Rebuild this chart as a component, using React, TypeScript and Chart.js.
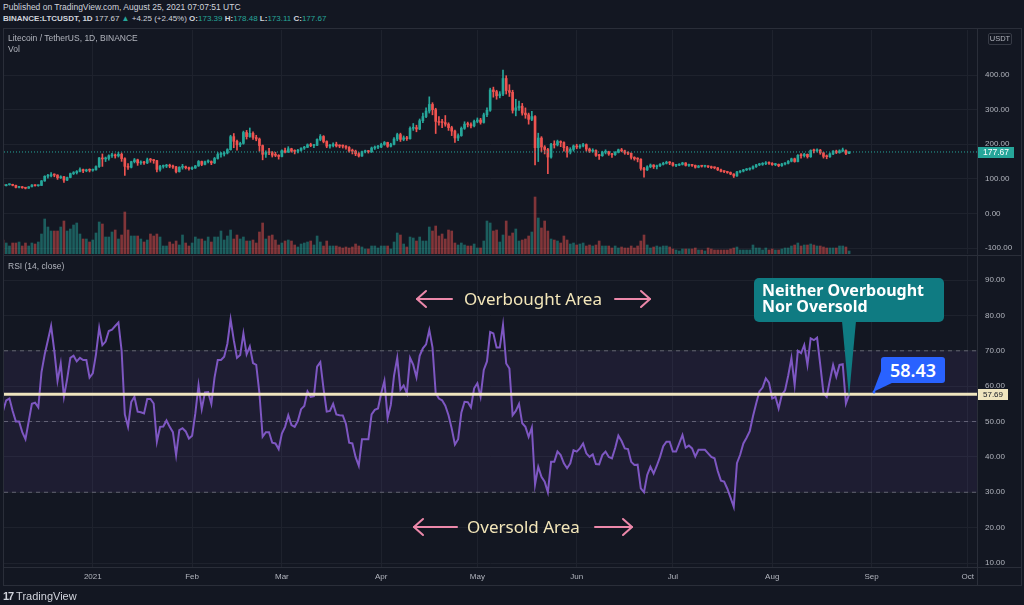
import React, { useEffect, useRef } from "react";
import { Chart, registerables } from "chart.js";

Chart.register(...registerables);

// ---------- data (Dec 4, 2020 = day 0 … Aug 25, 2021 = day 264) ----------
const FIRST_OPEN = 84.0;

const closes = [
  80.2, 83.1, 84.0, 81.3, 75.5, 77.2, 74.4, 73.0, 77.1, 82.2,
  80.3, 81.0, 94.2, 107.5, 108.8, 112.3, 111.0, 103.1, 106.2, 96.5,
  104.1, 115.2, 117.9, 121.3, 127.0, 123.2, 125.3, 124.8, 126.2, 135.5,
  160.4, 157.6, 158.9, 166.7, 167.6, 166.4, 170.9, 158.5, 136.1, 133.5,
  149.6, 155.0, 146.1, 146.7, 146.2, 155.3, 154.4, 152.7, 127.4, 136.0,
  136.9, 139.3, 136.8, 134.5, 121.0, 133.6, 134.6, 132.3, 129.5, 131.5,
  137.4, 150.2, 141.8, 149.6, 150.1, 146.2, 158.9, 170.5, 171.8, 175.0,
  184.3, 222.0, 208.6, 198.2, 202.5, 234.0, 222.1, 231.5, 219.6, 215.0,
  196.2, 171.0, 176.3, 175.8, 168.4, 168.0, 164.8, 181.8, 177.5, 187.0,
  180.2, 179.4, 182.8, 188.9, 191.0, 198.6, 196.2, 197.0, 214.0, 222.5,
  208.0, 194.6, 196.0, 200.2, 195.0, 194.8, 194.5, 190.8, 180.5, 180.0,
  172.4, 166.0, 178.5, 178.8, 178.6, 189.0, 191.4, 192.0, 199.5, 205.0,
  194.0, 199.5, 215.0, 228.0, 214.0, 218.5, 216.0, 246.0, 248.0, 244.0,
  268.0, 280.0, 296.0, 315.0, 300.0, 266.0, 263.0, 262.5, 258.0, 248.0,
  238.0, 218.0, 225.0, 246.0, 258.0, 257.0, 253.0, 266.0, 270.0, 263.0,
  285.0, 298.0, 357.0, 352.0, 340.0, 345.0, 390.0, 355.0, 350.0, 298.0,
  305.0, 310.0, 290.0, 285.0, 272.0, 280.0, 190.0, 218.0, 192.0, 185.0,
  163.0, 200.0, 198.0, 208.0, 205.0, 190.0, 180.0, 185.0, 195.0, 192.0,
  195.0, 199.0, 186.0, 180.0, 182.0, 168.0, 167.0, 177.0, 178.0, 172.0,
  170.0, 177.0, 184.0, 181.0, 175.0, 174.0, 162.0, 158.0, 157.0, 130.0,
  126.0, 135.0, 140.0, 135.0, 138.0, 142.0, 145.0, 148.0, 146.0, 139.0,
  139.5, 142.0, 146.0, 139.0, 140.5, 139.0, 133.5, 137.0, 136.5, 137.0,
  135.0, 132.5, 132.0, 126.0, 121.5, 121.0, 118.5, 114.0, 108.5, 120.0,
  122.5, 126.0, 128.0, 130.0, 135.0, 140.5, 142.0, 143.5, 146.5, 145.0,
  141.0, 142.0, 138.0, 143.0, 145.0, 151.0, 158.0, 150.0, 168.0, 167.0,
  171.0, 164.0, 182.0, 181.0, 183.0, 175.0, 165.0, 164.0, 172.0, 180.0,
  176.0, 181.0, 182.0, 173.39, 177.67,
];

const highs = [
  85.5, 84.2, 85.6, 84.6, 82.0, 78.6, 78.0, 75.2, 77.8, 83.4,
  83.0, 82.3, 95.5, 109.0, 113.0, 118.5, 114.5, 112.0, 109.0, 107.5,
  105.5, 116.8, 121.0, 124.0, 132.0, 128.5, 128.0, 129.0, 128.5, 138.0,
  162.0, 172.0, 163.0, 169.5, 173.5, 172.0, 177.0, 175.0, 161.0, 144.0,
  151.0, 159.0, 157.0, 152.0, 151.0, 160.0, 159.0, 156.0, 153.5, 139.0,
  140.0, 142.0, 142.5, 139.5, 136.0, 135.0, 142.0, 137.0, 134.0, 134.5,
  139.0, 153.0, 151.5, 151.5, 155.0, 152.0, 162.0, 176.0, 177.0, 178.5,
  187.0, 226.0, 231.0, 212.0, 206.0, 238.0, 240.0, 247.0, 236.0, 226.0,
  218.0, 198.0, 181.0, 188.0, 179.0, 177.0, 170.0, 184.0, 189.0, 193.0,
  188.5, 184.0, 185.0, 190.0, 194.0, 201.0, 203.0, 199.5, 216.0, 228.0,
  225.0, 210.0, 200.0, 204.0, 206.0, 198.5, 198.0, 196.5, 193.0, 186.0,
  183.0, 176.0, 180.0, 183.0, 182.0, 192.0, 195.0, 197.0, 203.0, 208.0,
  206.0, 203.0, 219.0, 232.0, 232.0, 224.0, 223.0, 250.0, 260.0, 255.0,
  273.0, 290.0, 305.0, 337.0, 320.0, 304.0, 280.0, 272.0, 283.0, 262.0,
  252.0, 241.0, 230.0, 250.0, 265.0, 264.0, 262.0, 270.0, 276.0, 275.0,
  290.0, 305.0, 362.0, 365.0, 356.0, 352.0, 414.0, 398.0, 372.0, 356.0,
  330.0, 325.0, 318.0, 305.0, 290.0, 295.0, 283.0, 232.0, 222.0, 196.0,
  188.0, 203.0, 210.0, 212.0, 210.0, 207.0, 194.0, 190.0, 198.0, 200.0,
  199.0, 203.0, 201.0, 189.0, 187.0, 184.0, 171.0, 180.0, 184.0, 180.0,
  174.0, 179.0, 186.0, 188.0, 183.0, 178.0, 175.0, 164.0, 161.0, 158.0,
  133.0, 138.0, 143.0, 141.0, 140.0, 144.0, 148.0, 151.0, 150.0, 147.0,
  142.0, 144.0, 148.0, 147.0, 143.0, 142.0, 140.0, 139.0, 138.5, 139.0,
  138.0, 137.0, 134.5, 133.0, 128.0, 123.5, 122.0, 120.0, 115.0, 122.0,
  124.0, 127.5, 130.0, 132.0, 138.0, 142.0, 145.0, 147.0, 150.0, 149.0,
  147.0, 145.0, 143.0, 145.0, 147.0, 153.0, 160.0, 160.0, 170.0, 173.0,
  174.0, 172.0, 184.0, 186.0, 187.0, 185.0, 177.0, 169.0, 175.0, 182.0,
  183.0, 184.0, 189.0, 184.0, 178.48,
];

const lows = [
  78.5, 79.5, 81.8, 79.8, 73.9, 74.1, 72.8, 71.0, 72.5, 76.6,
  78.9, 78.6, 80.5, 92.8, 102.0, 105.5, 106.0, 98.5, 101.0, 90.0,
  95.0, 103.0, 112.5, 114.0, 120.0, 118.0, 120.5, 120.0, 122.0, 125.0,
  133.0, 136.0, 150.0, 154.0, 162.0, 160.0, 163.0, 150.5, 110.0, 127.0,
  131.5, 146.0, 139.0, 142.0, 141.5, 144.0, 148.0, 145.0, 120.0, 122.0,
  131.0, 132.5, 132.0, 130.0, 117.0, 119.5, 128.0, 128.5, 125.0, 126.5,
  130.0, 136.0, 138.0, 140.0, 146.0, 141.0, 144.0, 157.0, 163.0, 166.0,
  172.0, 183.0, 190.0, 183.0, 193.0, 200.0, 215.0, 220.0, 214.0, 210.0,
  180.0, 155.0, 162.0, 170.0, 163.0, 164.0, 157.0, 163.5, 175.0, 176.0,
  177.0, 172.0, 175.0, 180.0, 185.0, 190.0, 193.0, 190.0, 196.0, 210.0,
  204.0, 190.0, 189.0, 192.0, 192.0, 190.0, 189.0, 186.0, 177.0, 172.0,
  167.0, 163.0, 165.0, 175.0, 174.5, 176.0, 185.0, 187.0, 190.0, 197.0,
  191.0, 192.0, 198.0, 210.0, 208.0, 210.0, 211.0, 215.0, 240.0, 236.0,
  242.0, 262.0, 277.0, 290.0, 285.0, 231.0, 255.0, 248.0, 252.0, 240.0,
  225.0, 205.0, 210.0, 223.0, 243.0, 250.0, 247.0, 250.0, 262.0, 258.0,
  261.0, 280.0, 295.0, 336.0, 330.0, 334.0, 340.0, 345.0, 338.0, 290.0,
  282.0, 298.0, 284.0, 275.0, 258.0, 268.0, 140.0, 150.0, 178.0, 172.0,
  115.0, 160.0, 189.0, 195.0, 193.0, 180.0, 163.0, 172.0, 180.0, 187.0,
  188.0, 192.0, 180.0, 176.0, 177.0, 165.0, 156.0, 165.0, 172.0, 168.0,
  162.0, 168.0, 175.0, 178.0, 171.0, 170.0, 157.0, 154.0, 149.0, 125.0,
  105.0, 124.0, 132.0, 130.0, 129.0, 135.0, 140.0, 143.0, 141.0, 137.0,
  135.0, 138.0, 140.0, 137.0, 136.0, 136.0, 131.0, 132.0, 134.0, 134.0,
  132.0, 130.0, 129.0, 124.0, 120.0, 118.0, 116.0, 112.0, 104.0, 107.0,
  117.0, 120.0, 124.0, 125.0, 128.0, 133.0, 138.0, 139.0, 141.0, 142.0,
  139.0, 138.0, 135.0, 136.0, 140.0, 143.0, 149.0, 148.0, 149.0, 160.0,
  163.0, 160.0, 162.0, 175.0, 177.0, 171.0, 160.0, 158.0, 162.0, 170.0,
  173.0, 174.0, 178.0, 170.0, 173.11,
];

// volume, in units of 100k LTC
const volumes = [
  14, 11, 8, 11, 11, 12, 8, 11, 8, 11,
  10, 12, 20, 35, 27, 23, 23, 23, 27, 33,
  23, 25, 29, 31, 20, 15, 15, 12, 14, 21,
  32, 30, 17, 17, 22, 24, 15, 19, 42, 24,
  18, 18, 18, 15, 12, 14, 20, 18, 20, 17,
  8, 8, 12, 10, 13, 9, 19, 11, 8, 11,
  17, 15, 15, 13, 17, 12, 17, 17, 23, 14,
  18, 24, 15, 19, 15, 17, 13, 13, 14, 11,
  22, 31, 15, 18, 19, 14, 9, 11, 13, 14,
  13, 9, 7, 10, 11, 12, 13, 9, 18, 12,
  8, 13, 8, 8, 8, 7, 6, 7, 6, 7,
  10, 8, 7, 5, 5, 8, 8, 6, 8, 8,
  8, 5, 12, 21, 19, 10, 7, 17, 16, 13,
  17, 13, 13, 27, 23, 28, 18, 20, 15, 24,
  23, 11, 9, 11, 9, 8, 8, 10, 6, 6,
  13, 33, 31, 23, 24, 12, 19, 33, 18, 21,
  25, 13, 14, 15, 18, 22, 57, 36, 26, 33,
  23, 15, 14, 13, 11, 18, 14, 10, 11, 9,
  10, 11, 8, 9, 8, 9, 13, 8, 8, 8,
  6, 8, 6, 7, 6, 6, 8, 6, 8, 13,
  19, 9, 6, 7, 8, 7, 8, 8, 7, 5,
  4, 3, 5, 5, 5, 5, 6, 4, 4, 3,
  6, 5, 4, 4, 4, 4, 4, 5, 6, 7,
  4, 4, 4, 4, 9, 6, 6, 4, 6, 4,
  5, 4, 4, 5, 6, 6, 8, 9, 11, 8,
  9, 9, 10, 9, 8, 8, 7, 6, 6, 6,
  6, 8, 8, 7, 3,
];

const rsi = [
  53, 56, 56.5, 53, 50, 50, 47, 45, 50, 55,
  55.3, 54, 64, 69, 73, 77, 70, 61.5, 66.4, 57,
  62, 68, 68.6, 67, 68, 67.4, 67.4, 62.4, 63.6, 69,
  76.5, 71.6, 72.6, 75.6, 76, 77, 78, 70, 52, 48.5,
  55.5, 57, 52.8, 52.6, 52.3, 56.4, 56.4, 55.1, 44.3, 48.5,
  48.6, 50.3, 48.5, 47, 40.5, 47.6, 48.1, 47.2, 45.2, 46,
  52.3, 60.3, 53.5, 58.2, 58.3, 55, 62.5, 67.4, 67.4, 68.3,
  72, 78.9, 73, 68, 68.8, 74.9, 69, 71.2, 66.5, 66,
  58, 45.7, 47, 47, 44, 43.8, 42.2, 46.6, 48.5, 51.8,
  49, 48.5, 50.2, 53.5, 54.4, 58.5, 57, 57.2, 65.5, 66.8,
  59.3, 52.8, 53, 55, 52, 51.8, 51.7, 49.3, 44, 43.8,
  40, 37.5, 45, 45, 45, 52, 53.3, 53.7, 58, 61.5,
  51, 54.7, 63, 68, 59, 60.2, 58, 68, 66, 62.5,
  68.6, 70.7, 71.8, 75.9, 71, 58, 56.5, 56, 54.5, 51.8,
  48, 43.5, 45, 52.5, 55.6, 55.5, 54, 59.4, 60.8, 57,
  64.6, 67, 75.3, 74.9, 70.9, 70.9, 77.3, 66.4, 65, 51.8,
  53, 55, 49.5, 48.5, 45.7, 48.3, 32.2, 37.2, 34.4, 33,
  30, 38.6, 38.6, 41.5, 40.5, 38.2, 36.8, 38.2, 41.9, 41.5,
  42.4, 43.8, 41, 40, 40.7, 38, 37.9, 40.5, 41.5, 40,
  39.6, 42.5, 46, 44.5, 42.4, 42.2, 38.6, 37.7, 37.8, 31.1,
  30, 34.9, 37.2, 35.3, 37.5, 40, 43, 44.3, 44.3, 41.5,
  41.5, 43.8, 46.2, 42.6, 43.2, 42.4, 40.1, 42, 42, 42,
  41, 40, 39.6, 36, 33.3, 33, 31, 28.5, 25.9, 38.2,
  40.6, 43.8, 45.4, 47.3, 51.5, 55.1, 58.5, 59.6, 62.2, 61,
  56.5, 57, 53.7, 57.5, 58.8, 63, 67.9, 60.3, 70, 69.3,
  71.6, 66, 73.5, 73, 73.7, 66, 58, 57, 61.7, 66,
  62.7, 66, 66.2, 55.1, 57.69,
];

const monthTicks = [28, 59, 87, 118, 148, 179, 209, 240, 271, 301];
const monthLabels = ["2021", "Feb", "Mar", "Apr", "May", "Jun", "Jul", "Aug", "Sep", "Oct"];
const priceTicks = [-100, 0, 100, 200, 300, 400];
const rsiTicks = [10, 20, 30, 40, 50, 60, 70, 80, 90];
const rsiBands = [70, 50, 30];
const LAST_PRICE = 177.67;
const RSI_LEVEL = 57.69;
const RSI_CALLOUT = "58.43";

// ---------- styling ----------
const X_MIN = 0.3;
const X_MAX = 303.9;
const FONT = '"Liberation Sans", Arial, sans-serif';
const BG = "#131722";
const GRID = "#1e222d";
const LINE = "#2a2e39";
const AXIS_TEXT = "#b2b5be";
const UP = "#26a69a";
const DOWN = "#ef5350";
const UP_VOL = "rgba(38,166,154,0.5)";
const DOWN_VOL = "rgba(239,83,80,0.5)";
const AXIS_W = 47;

const opens = closes.map((c, i) => (i === 0 ? FIRST_OPEN : closes[i - 1]));
const isUp = closes.map((c, i) => c >= opens[i]);

function xScale(showLabels: boolean): any {
  return {
    type: "linear",
    min: X_MIN,
    max: X_MAX,
    offset: false,
    border: { display: false },
    grid: { color: GRID, drawTicks: false, offset: false, lineWidth: 1 },
    ticks: {
      display: showLabels,
      color: AXIS_TEXT,
      font: { size: 8, family: FONT },
      padding: 5,
      autoSkip: false,
      maxRotation: 0,
      callback: (v: any) => {
        const k = monthTicks.indexOf(Number(v));
        return k >= 0 ? monthLabels[k] : "";
      },
    },
    afterBuildTicks: (s: any) => {
      s.ticks = monthTicks.map((v) => ({ value: v }));
    },
    afterFit: (s: any) => {
      s.height = showLabels ? 18 : 0;
      s.paddingLeft = 0;
      s.paddingRight = 0;
    },
  };
}

function yScale(min: number, max: number, ticks: number[]): any {
  return {
    type: "linear",
    position: "right",
    min,
    max,
    border: { display: false },
    grid: { color: GRID, drawTicks: false },
    ticks: {
      color: AXIS_TEXT,
      font: { size: 8, family: FONT },
      padding: 8,
      callback: (v: any) => Number(v).toFixed(2),
    },
    afterBuildTicks: (s: any) => {
      s.ticks = ticks.map((v) => ({ value: v }));
    },
    afterFit: (s: any) => {
      s.width = AXIS_W;
      s.paddingTop = 0;
      s.paddingBottom = 0;
    },
  };
}

function PriceChart() {
  const ref = useRef<HTMLCanvasElement>(null);
  useEffect(() => {
    const days = closes.map((_, i) => i);
    const chart = new Chart(ref.current as HTMLCanvasElement, {
      type: "bar",
      data: {
        datasets: [
          {
            type: "line",
            data: [
              { x: X_MIN, y: LAST_PRICE },
              { x: X_MAX, y: LAST_PRICE },
            ],
            borderColor: UP,
            borderWidth: 1,
            borderDash: [1, 2],
            pointRadius: 0,
            yAxisID: "y",
            order: 0,
          } as any,
          {
            data: days.map((i) => ({ x: i, y: [opens[i], closes[i]] })),
            backgroundColor: days.map((i) => (isUp[i] ? UP : DOWN)),
            barThickness: 2,
            minBarLength: 1,
            grouped: false,
            borderWidth: 0,
            yAxisID: "y",
            order: 1,
          } as any,
          {
            data: days.map((i) => ({ x: i, y: [lows[i], highs[i]] })),
            backgroundColor: days.map((i) => (isUp[i] ? UP : DOWN)),
            barThickness: 1,
            grouped: false,
            borderWidth: 0,
            yAxisID: "y",
            order: 2,
          } as any,
          {
            data: days.map((i) => ({ x: i, y: volumes[i] })),
            backgroundColor: days.map((i) => (isUp[i] ? UP_VOL : DOWN_VOL)),
            barThickness: 2,
            grouped: false,
            borderWidth: 0,
            yAxisID: "vol",
            order: 3,
          } as any,
        ],
      },
      options: {
        responsive: false,
        animation: false,
        events: [],
        layout: { padding: { left: 4, right: 0, top: 0, bottom: 0 }, autoPadding: false },
        plugins: { legend: { display: false }, tooltip: { enabled: false } },
        scales: {
          x: xScale(false),
          y: yScale(-117, 530, priceTicks),
          vol: { type: "linear", display: false, min: 0, max: 224 },
        } as any,
      },
    });
    return () => chart.destroy();
  }, []);
  return (
    <canvas
      ref={ref}
      width={1024}
      height={224}
      style={{ position: "absolute", left: 0, top: 30, width: 1024, height: 224 }}
    />
  );
}

function RsiChart() {
  const ref = useRef<HTMLCanvasElement>(null);
  useEffect(() => {
    const span = (v: number) => [
      { x: X_MIN, y: v },
      { x: X_MAX, y: v },
    ];
    const dashed = {
      borderColor: "rgba(120,123,134,0.75)",
      borderWidth: 1,
      borderDash: [4, 4],
      pointRadius: 0,
    };
    const chart = new Chart(ref.current as HTMLCanvasElement, {
      type: "line",
      data: {
        datasets: [
          { data: span(rsiBands[0]), ...dashed, fill: "+1", backgroundColor: "rgba(126,87,194,0.1)", order: 5 } as any,
          { data: span(rsiBands[2]), ...dashed, fill: false, order: 5 } as any,
          { data: span(rsiBands[1]), ...dashed, fill: false, order: 5 } as any,
          {
            data: rsi.map((v, i) => ({ x: i, y: v })),
            borderColor: "#7e57c2",
            borderWidth: 2,
            pointRadius: 0,
            tension: 0,
            fill: false,
            order: 2,
          } as any,
          {
            data: span(RSI_LEVEL),
            borderColor: "#efe5bf",
            borderWidth: 3,
            pointRadius: 0,
            fill: false,
            order: 1,
          } as any,
        ],
      },
      options: {
        responsive: false,
        animation: false,
        events: [],
        layout: { padding: { left: 4, right: 0, top: 0, bottom: 0 }, autoPadding: false },
        plugins: { legend: { display: false }, tooltip: { enabled: false } },
        scales: {
          x: xScale(true),
          y: yScale(8.87, 96.8, rsiTicks),
        } as any,
      },
    });
    return () => chart.destroy();
  }, []);
  return (
    <canvas
      ref={ref}
      width={1024}
      height={329}
      style={{ position: "absolute", left: 0, top: 256, width: 1024, height: 329 }}
    />
  );
}

const abs = (s: React.CSSProperties): React.CSSProperties => ({ position: "absolute", whiteSpace: "nowrap", ...s });

export default function App() {
  const small: React.CSSProperties = { fontFamily: FONT, fontSize: 8.5, color: AXIS_TEXT, lineHeight: "10px" };
  const anno: React.CSSProperties = {
    fontFamily: '"Noto Sans", "Open Sans", sans-serif',
    fontSize: 17,
    color: "#f3e6b9",
    lineHeight: "20px",
  };
  const pink = "#ec88aa";
  return (
    <div
      style={{
        position: "fixed",
        left: 0,
        top: 0,
        width: 1024,
        height: 605,
        background: BG,
        overflow: "hidden",
        fontFamily: FONT,
      }}
    >
      {/* header */}
      <div style={abs({ left: 3, top: 2, fontSize: 8.5, color: "#d1d4dc", lineHeight: "11px" })}>
        Published on TradingView.com, August 25, 2021 07:07:51 UTC
      </div>
      <div style={abs({ left: 3, top: 13, fontSize: 8, color: "#d1d4dc", lineHeight: "11px", fontWeight: 700 })}>
        BINANCE:LTCUSDT, 1D <span style={{ fontWeight: 400 }}>177.67</span>{" "}
        <span style={{ color: UP }}>▲</span> <span style={{ fontWeight: 400 }}>+4.25 (+2.45%)</span> O:
        <span style={{ color: UP, fontWeight: 400 }}>173.39</span> H:
        <span style={{ color: UP, fontWeight: 400 }}>178.48</span> L:
        <span style={{ color: UP, fontWeight: 400 }}>173.11</span> C:
        <span style={{ color: UP, fontWeight: 400 }}>177.67</span>
      </div>

      <PriceChart />
      <RsiChart />

      {/* frame lines */}
      <div style={abs({ left: 3, top: 28, width: 1018, height: 1, background: LINE })} />
      <div style={abs({ left: 3, top: 255, width: 1018, height: 1, background: LINE })} />
      <div style={abs({ left: 3, top: 567, width: 1018, height: 1, background: LINE })} />
      <div style={abs({ left: 3, top: 585, width: 1018, height: 1, background: LINE })} />
      <div style={abs({ left: 3, top: 28, width: 1, height: 558, background: LINE })} />
      <div style={abs({ left: 977, top: 28, width: 1, height: 558, background: LINE })} />
      <div style={abs({ left: 1021, top: 28, width: 1, height: 558, background: LINE })} />

      {/* pane legends */}
      <div style={abs({ ...small, left: 8, top: 33 })}>Litecoin / TetherUS, 1D, BINANCE</div>
      <div style={abs({ ...small, left: 8, top: 44 })}>Vol</div>
      <div style={abs({ ...small, left: 8, top: 261 })}>RSI (14, close)</div>

      {/* axis badges */}
      <div
        style={abs({
          left: 988,
          top: 33,
          width: 22,
          height: 10,
          border: "1px solid #363a45",
          borderRadius: 2,
          fontSize: 7.5,
          lineHeight: "10px",
          color: AXIS_TEXT,
          textAlign: "center",
        })}
      >
        USDT
      </div>
      <div
        style={abs({
          left: 978,
          top: 147,
          width: 36,
          height: 11,
          background: UP,
          color: "#ffffff",
          fontSize: 8.5,
          lineHeight: "11px",
          textAlign: "center",
        })}
      >
        177.67
      </div>
      <div
        style={abs({
          left: 978,
          top: 389,
          width: 30,
          height: 11,
          background: "#efe5bf",
          color: BG,
          fontSize: 8,
          lineHeight: "11px",
          textAlign: "center",
        })}
      >
        57.69
      </div>

      {/* annotations */}
      <svg width={1024} height={605} style={{ position: "absolute", left: 0, top: 0, pointerEvents: "none" }}>
        <g stroke={pink} strokeWidth={2} fill="none" strokeLinecap="round" strokeLinejoin="round">
          <line x1={417} y1={299} x2={452} y2={299} />
          <polyline points="426,291 417,299 426,307" />
          <line x1={615} y1={299} x2={650} y2={299} />
          <polyline points="641,291 650,299 641,307" />
          <line x1={414} y1={527} x2={457} y2={527} />
          <polyline points="423,519 414,527 423,535" />
          <line x1={595} y1={527} x2={632} y2={527} />
          <polyline points="623,519 632,527 623,535" />
        </g>
        <polygon points="842,321 856,321 849,397" fill="#0f7b82" />
        <polygon points="881,371 894,382 873,392" fill="#2962ff" />
        <circle cx={874} cy={392} r={1.5} fill="#2962ff" />
      </svg>

      <div style={abs({ ...anno, left: 464, top: 289 })}>Overbought Area</div>
      <div style={abs({ ...anno, left: 467, top: 517 })}>Oversold Area</div>

      <div
        style={abs({
          left: 754,
          top: 278,
          width: 190,
          height: 44,
          background: "#0f7b82",
          borderRadius: 5,
          boxSizing: "border-box",
          padding: "4px 0 0 8px",
          fontFamily: '"Noto Sans", "Open Sans", sans-serif',
          fontWeight: 700,
          fontSize: 16,
          lineHeight: "16px",
          color: "#ffffff",
        })}
      >
        Neither Overbought
        <br />
        Nor Oversold
      </div>
      <div
        style={abs({
          left: 881,
          top: 357,
          width: 64,
          height: 26,
          background: "#2962ff",
          borderRadius: 3,
          fontFamily: '"Noto Sans", "Open Sans", sans-serif',
          fontWeight: 600,
          fontSize: 18,
          lineHeight: "26px",
          color: "#ffffff",
          textAlign: "center",
        })}
      >
        {RSI_CALLOUT}
      </div>

      {/* footer logo */}
      <div style={abs({ left: 3, top: 590, fontSize: 11, color: "#d1d4dc", lineHeight: "13px" })}>
        <span style={{ fontWeight: 900, letterSpacing: -1 }}>17</span> TradingView
      </div>
    </div>
  );
}
